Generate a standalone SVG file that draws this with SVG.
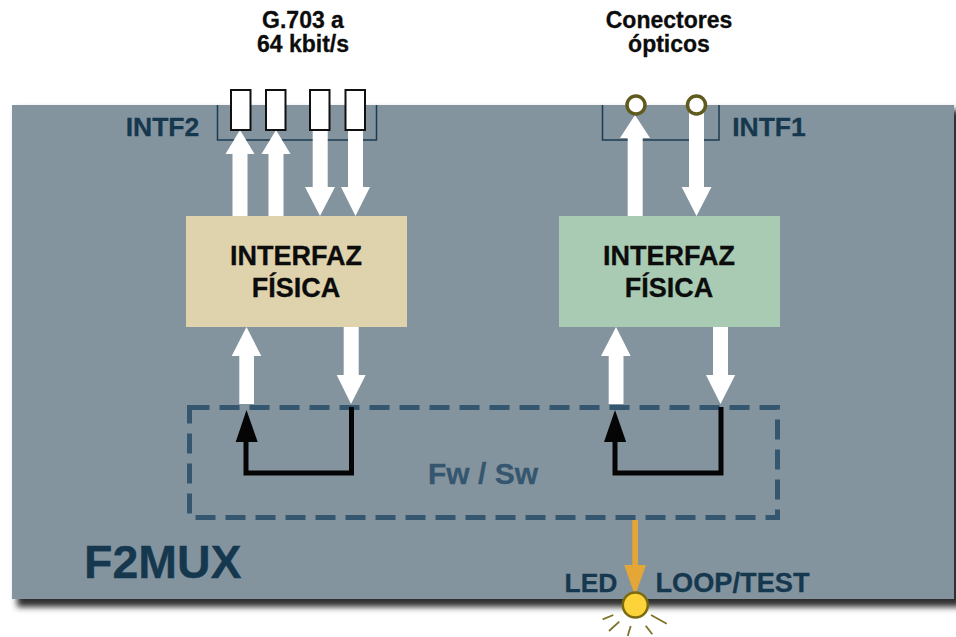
<svg xmlns="http://www.w3.org/2000/svg" width="956" height="637" viewBox="0 0 956 637">
<style>
text{font-family:"Liberation Sans",Arial,sans-serif;font-weight:bold;text-anchor:middle}
.title{font-size:23px;fill:#0c0c0c;stroke:#0c0c0c;stroke-width:.3}
.lab{font-size:26.5px;fill:#16384f;stroke:#16384f;stroke-width:.3}
.box{font-size:27px;fill:#0c0c0c;stroke:#0c0c0c;stroke-width:.3}
.w{fill:#fff}
.port{fill:#fff;stroke:#111;stroke-width:2}
.opt{fill:#fff;stroke:#5f5a1e;stroke-width:3.500}
.brk{fill:none;stroke:#1c3b52;stroke-width:1.5}
.blk{fill:none;stroke:#050505;stroke-width:5}
.ray{stroke:#7f7228;stroke-width:1.8;fill:none}
</style>
<defs>
<filter id="blur" x="-3%" y="-3%" width="106%" height="106%"><feGaussianBlur stdDeviation="3"/></filter>
<polygon id="up" points="0,0 14.5,24 7.5,24 7.5,86 -7.5,86 -7.5,24 -14.5,24"/>
</defs>
<g id="panel">
<rect x="17" y="110" width="945" height="497" fill="#2e2e2e" filter="url(#blur)"/>
<rect x="12" y="105" width="942" height="494" fill="#84949f"/>
<text class="lab" x="84" y="578" style="font-size:46.5px;text-anchor:start">F2MUX</text>
</g>
<g id="intf2">
<path class="brk" d="M217.5 105V140H376.5V105"/>
<text class="lab" x="162.5" y="136">INTF2</text>
</g>
<g id="intf1">
<path class="brk" d="M602.5 105V140H719V105"/>
<text class="lab" x="769" y="136">INTF1</text>
</g>
<g id="fwsw">
<rect x="189.500" y="407.500" width="588" height="110" fill="none" stroke="#34566e" stroke-width="5" stroke-dasharray="20 10"/>
<text x="483" y="484" style="font-size:30px;fill:#34566e;stroke:#34566e;stroke-width:.3">Fw / Sw</text>
</g>
<g id="connectors">
<use href="#up" class="w" x="240" y="130"/>
<use href="#up" class="w" x="276" y="130"/>
<polygon class="w" points="320,216 335,187 327.700,187 327.700,130 312.700,130 312.700,187 305,187"/>
<polygon class="w" points="355.500,216 370,187 363,187 363,130 348,130 348,187 341,187"/>
<polygon class="w" points="635,115 650,138 642.700,138 642.700,216 627.700,216 627.700,138 620,138"/>
<polygon class="w" points="696.500,216 711.500,187 704,187 704,110 689,110 689,187 681.700,187"/>
<polygon class="w" points="246.500,327 261.300,356 254,356 254,404 239.300,404 239.300,356 231.700,356"/>
<polygon class="w" points="351,404 365.700,375 358.700,375 358.700,327 343.700,327 343.700,375 336.700,375"/>
<polygon class="w" points="616,327 630.700,356 623.500,356 623.500,404 608.700,404 608.700,356 601,356"/>
<polygon class="w" points="720.500,404 735.200,375 728,375 728,327 713,327 713,375 706,375"/>
<path class="blk" d="M351.500 407V473H246V440"/>
<polygon points="246.500,410 257.700,442 235.700,442" fill="#050505"/>
<path class="blk" d="M721 407V473H615V440"/>
<polygon points="615,410 626.200,442 604,442" fill="#050505"/>
<rect x="632.300" y="520" width="5.700" height="46" fill="#e4a636"/>
<polygon points="624.300,565 646,565 635,596" fill="#e4a636"/>
</g>
<g id="phy1">
<rect x="186" y="216" width="221" height="111" fill="#dfd3ae"/>
<text class="box" x="296" y="265">INTERFAZ</text>
<text class="box" x="296" y="297">FÍSICA</text>
</g>
<g id="phy2">
<rect x="559" y="216" width="221" height="111" fill="#a9cbb3"/>
<text class="box" x="669" y="265">INTERFAZ</text>
<text class="box" x="669" y="297">FÍSICA</text>
</g>
<g id="ports-g703">
<rect class="port" x="231" y="90" width="19.500" height="40"/>
<rect class="port" x="266" y="90" width="19.500" height="40"/>
<rect class="port" x="310" y="90" width="19.500" height="40"/>
<rect class="port" x="345.500" y="90" width="19.500" height="40"/>
<text class="title" x="303" y="28">G.703 a</text>
<text class="title" x="303" y="52">64 kbit/s</text>
</g>
<g id="ports-optical">
<circle class="opt" cx="636" cy="105" r="9"/>
<circle class="opt" cx="696.500" cy="105" r="9"/>
<text class="title" x="669" y="28">Conectores</text>
<text class="title" x="669" y="52">ópticos</text>
</g>
<g id="led">
<circle cx="635.300" cy="605" r="12.500" fill="#fdd33a" stroke="#7a6a10" stroke-width="2.500"/>
<path class="ray" d="M602.700 619.300L613.300 615M609 631L619.300 621.700M627.700 636L630.700 626M652.300 634.300L645.700 625.700M666.700 623.700L651 615"/>
<text class="lab" x="591" y="592">LED</text>
<text class="lab" x="732.500" y="592" style="font-size:27.200px">LOOP/TEST</text>
</g>
</svg>
